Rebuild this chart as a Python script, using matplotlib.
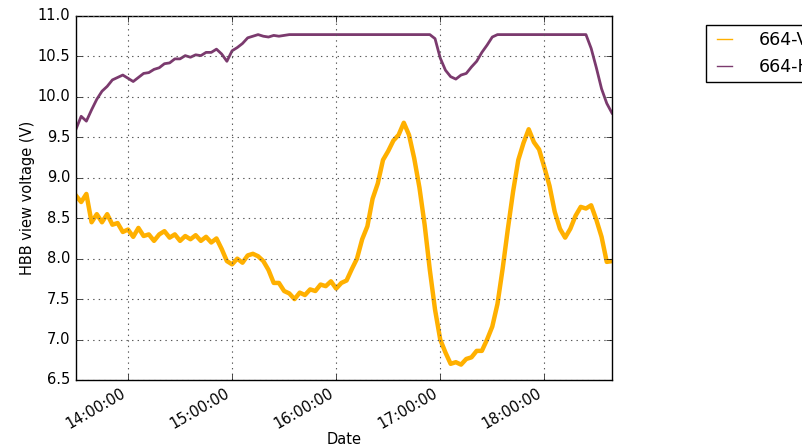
import numpy as np
import pandas as pd
import matplotlib
matplotlib.use("Agg")
import matplotlib.pyplot as plt
import matplotlib.dates as mdates

# HBB view voltage, sampled every 3 minutes from 13:30
start_time = "2016-06-01 13:30:00"
n_samples = 104

v_664 = [
    8.78, 8.70, 8.80, 8.45, 8.55, 8.45, 8.55, 8.42, 8.44, 8.33,
    8.36, 8.27, 8.38, 8.28, 8.30, 8.22, 8.30, 8.34, 8.26, 8.30,
    8.22, 8.28, 8.24, 8.29, 8.22, 8.27, 8.20, 8.25, 8.12, 7.97,
    7.93, 8.00, 7.95, 8.04, 8.06, 8.03, 7.97, 7.86, 7.70, 7.70,
    7.60, 7.57, 7.50, 7.58, 7.55, 7.62, 7.60, 7.68, 7.66, 7.72,
    7.63, 7.70, 7.73, 7.87, 8.00, 8.24, 8.40, 8.74, 8.93, 9.22,
    9.33, 9.46, 9.53, 9.68, 9.53, 9.24, 8.88, 8.42, 7.86, 7.37,
    7.00, 6.84, 6.70, 6.72, 6.69, 6.76, 6.78, 6.86, 6.86, 7.00,
    7.16, 7.44, 7.88, 8.37, 8.83, 9.22, 9.43, 9.60, 9.44, 9.35,
    9.13, 8.90, 8.58, 8.37, 8.26, 8.37, 8.53, 8.64, 8.62, 8.66,
    8.48, 8.27, 7.96, 7.97,
]

h_664 = [
    9.60, 9.76, 9.70, 9.84, 9.97, 10.07, 10.13, 10.21, 10.24, 10.27,
    10.23, 10.19, 10.24, 10.29, 10.30, 10.34, 10.36, 10.41, 10.42, 10.47,
    10.47, 10.51, 10.49, 10.52, 10.51, 10.55, 10.55, 10.59, 10.53, 10.44,
    10.57, 10.61, 10.66, 10.73, 10.75, 10.77, 10.75, 10.74, 10.76, 10.75,
    10.76, 10.77, 10.77, 10.77, 10.77, 10.77, 10.77, 10.77, 10.77, 10.77,
    10.77, 10.77, 10.77, 10.77, 10.77, 10.77, 10.77, 10.77, 10.77, 10.77,
    10.77, 10.77, 10.77, 10.77, 10.77, 10.77, 10.77, 10.77, 10.77, 10.72,
    10.48, 10.33, 10.25, 10.22, 10.27, 10.29, 10.37, 10.44, 10.55, 10.64,
    10.74, 10.77, 10.77, 10.77, 10.77, 10.77, 10.77, 10.77, 10.77, 10.77,
    10.77, 10.77, 10.77, 10.77, 10.77, 10.77, 10.77, 10.77, 10.77, 10.60,
    10.36, 10.10, 9.92, 9.80,
]

labels = ["664-V", "664-H"]
colours = ["#ffb000", "#7b3a6e"]

times = pd.date_range(start_time, periods=n_samples, freq="3min")

plt.style.use("classic")
fig = plt.figure(figsize=(8.03, 4.48), dpi=100, facecolor="white")
ax = fig.add_axes([0.0946, 0.1518, 0.6675, 0.8125])

ax.plot(times, v_664, color=colours[0], lw=3.2, label=labels[0])
ax.plot(times, h_664, color=colours[1], lw=2.0, label=labels[1])

ax.set_xlim(times[0], times[-1])
ax.set_ylim(6.5, 11.0)
ax.grid(True, color="0.35", linestyle=":", linewidth=0.8)

ax.xaxis.set_major_locator(mdates.HourLocator())
ax.xaxis.set_major_formatter(mdates.DateFormatter("%H:%M:%S"))
for lbl in ax.get_xticklabels():
    lbl.set_rotation(30)
    lbl.set_ha("right")
ax.tick_params(labelsize=10.5)

ax.set_xlabel("Date", fontsize=10.5, labelpad=0.5)
ax.set_ylabel("HBB view voltage (V)", fontsize=10.5, labelpad=2)

# legend sits to the right of the axes
leg = ax.legend(loc="upper left", bbox_to_anchor=(0.879, 0.944),
                bbox_transform=fig.transFigure, borderaxespad=0,
                fontsize=12.5, handlelength=1.45, handletextpad=1.25,
                borderpad=0.35)
for line in leg.get_lines():
    line.set_linewidth(1.0)

fig.savefig("out.png", dpi=100, facecolor="white")
